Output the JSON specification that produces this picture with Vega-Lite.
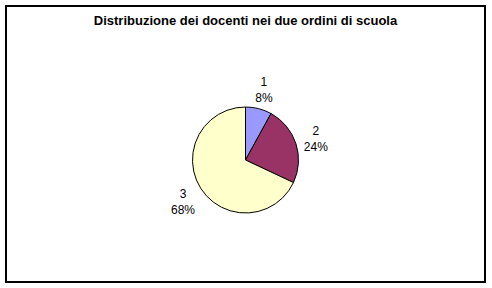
{
  "$schema": "https://vega.github.io/schema/vega-lite/v6.json",
  "autosize": {"type": "none"},
  "width": 479,
  "height": 276,
  "padding": {"left": 6, "top": 6, "right": 7, "bottom": 6},
  "background": "white",
  "title": {
    "text": "Distribuzione dei docenti nei due ordini di scuola",
    "font": "Liberation Sans",
    "fontSize": 13,
    "fontWeight": "bold",
    "color": "black",
    "anchor": "middle",
    "offset": -23
  },
  "datasets": {
    "docenti": [
      {"cat": "1", "pct": 8},
      {"cat": "2", "pct": 24},
      {"cat": "3", "pct": 68}
    ]
  },
  "layer": [
    {
      "data": {"values": [{"frame": 1}]},
      "mark": {"type": "rect", "fill": null, "fillOpacity": 0, "stroke": "black", "strokeWidth": 2},
      "encoding": {
        "x": {"value": 0},
        "x2": {"value": "width"},
        "y": {"value": 0},
        "y2": {"value": "height"}
      }
    },
    {
      "data": {"name": "docenti"},
      "mark": {"type": "arc", "outerRadius": 53, "stroke": "black", "strokeWidth": 1, "yOffset": 16},
      "encoding": {
        "theta": {"field": "pct", "type": "quantitative", "stack": true},
        "order": {"field": "cat", "type": "ordinal"},
        "color": {
          "field": "cat",
          "type": "nominal",
          "scale": {"domain": ["1", "2", "3"], "range": ["#9999FF", "#993366", "#FFFFCC"]},
          "legend": null
        }
      }
    },
    {
      "data": {"name": "docenti"},
      "transform": [
        {"calculate": "datum.cat + '\\n' + datum.pct + '%'", "as": "label"}
      ],
      "mark": {"type": "text", "radius": 74, "yOffset": 10, "font": "Liberation Sans", "fontSize": 12, "lineHeight": 16, "lineBreak": "\n", "baseline": "middle", "align": "center", "fill": "black"},
      "encoding": {
        "theta": {"field": "pct", "type": "quantitative", "stack": true},
        "order": {"field": "cat", "type": "ordinal"},
        "text": {"field": "label", "type": "nominal"}
      }
    }
  ],
  "config": {
    "view": {"stroke": null}
  }
}
